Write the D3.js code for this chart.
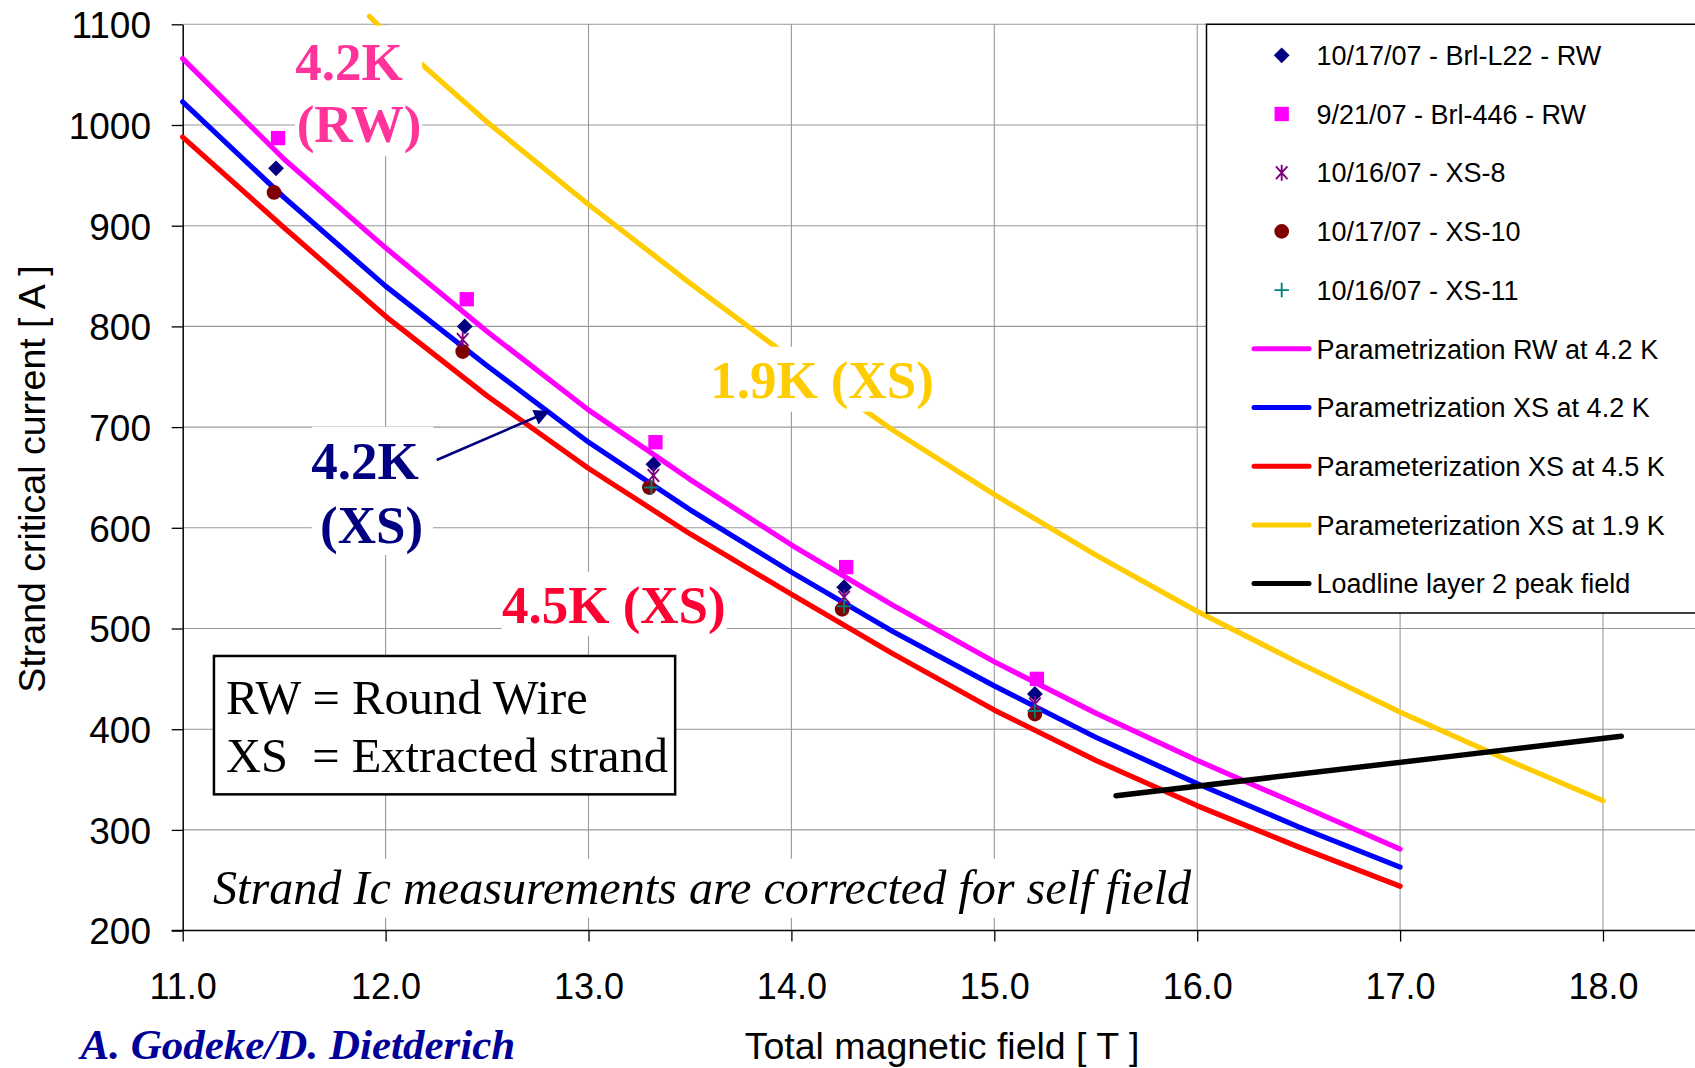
<!DOCTYPE html>
<html><head><meta charset="utf-8">
<script src="https://cdn.jsdelivr.net/npm/d3@7"></script>
<style>
html,body{margin:0;padding:0;background:#fff;}
svg{display:block;}
</style></head><body>
<svg id="chart" width="1695" height="1068"></svg>
<script>
// ---------- data ----------
const fieldGrid = [11, 11.5, 12, 12.5, 13, 13.5, 14, 14.5, 15, 15.5, 16, 16.5, 17];
const rw42 = [1066, 966, 878, 795, 717, 648, 583, 523, 467, 416, 369, 325, 281];
const xs42 = [1023, 928, 840, 761, 685, 618, 556, 497, 443, 392, 346, 303, 263];
const xs45 = [988, 898, 810, 731, 659, 594, 534, 475, 419, 369, 324, 283, 244];
const xs19Field = [11.92, 12, 12.5, 13, 13.5, 14, 14.5, 15, 15.5, 16, 16.5, 17, 17.5, 18];
const xs19 = [1108, 1092, 1003, 921, 843, 768, 697, 633, 573, 517, 466, 417, 372, 329];
const loadField = [15.6, 17.25, 18.09];
const loadCurrent = [334, 373, 393];

const l22Field = [11.46, 12.39, 13.32, 14.26, 15.2];
const l22 = [957, 800, 663, 541, 435];
const b446Field = [11.47, 12.40, 13.33, 14.27, 15.21];
const b446 = [987, 827, 685, 561, 450];
const xs8Field = [12.38, 13.32, 14.26, 15.2];
const xs8 = [787, 652, 531, 425];
const xs10Field = [11.45, 12.38, 13.30, 14.25, 15.2];
const xs10 = [933, 775, 640, 519, 415];
const xs11Field = [13.31, 14.26, 15.2];
const xs11 = [640, 522, 418];

const xTicks = [11, 12, 13, 14, 15, 16, 17, 18];
const yTicks = [200, 300, 400, 500, 600, 700, 800, 900, 1000, 1100];

const legendLabels = [
  "10/17/07 - Brl-L22 - RW",
  "9/21/07 - Brl-446 - RW",
  "10/16/07 - XS-8",
  "10/17/07 - XS-10",
  "10/16/07 - XS-11",
  "Parametrization RW at 4.2 K",
  "Parametrization XS at 4.2 K",
  "Parameterization XS at 4.5 K",
  "Parameterization XS at 1.9 K",
  "Loadline layer 2 peak field"
];

// ---------- setup ----------
const W = 1695, H = 1068;
const SANS = "'Liberation Sans', Arial, sans-serif";
const SERIF = "'Liberation Serif', 'Times New Roman', serif";
const svg = d3.select("#chart");
svg.append("rect").attr("width", W).attr("height", H).attr("fill", "#fff");

const x = d3.scaleLinear().domain([11, 18]).range([182.7, 1603]);
const y = d3.scaleLinear().domain([200, 1100]).range([930.6, 24.3]);
const plotRight = W;

// gridlines
const grid = svg.append("g").attr("stroke", "#999").attr("stroke-width", 1.1);
grid.selectAll("line.h").data(yTicks.filter(d => d > 200)).join("line")
  .attr("x1", x(11)).attr("x2", plotRight)
  .attr("y1", d => y(d)).attr("y2", d => y(d));
grid.selectAll("line.v").data(xTicks.filter(d => d > 11)).join("line")
  .attr("x1", d => x(d)).attr("x2", d => x(d))
  .attr("y1", y(1100)).attr("y2", y(200));

// axes
const xAxis = svg.append("g").attr("transform", `translate(0,${y(200)})`)
  .call(d3.axisBottom(x).tickValues(xTicks).tickSize(11).tickSizeOuter(0).tickFormat(d3.format(".1f")));
xAxis.select(".domain").remove();
xAxis.selectAll(".tick line").attr("stroke", "#000").attr("stroke-width", 1.3);
xAxis.selectAll(".tick text").attr("y", 68).attr("dy", 0)
  .attr("font-family", SANS).attr("font-size", 36).attr("fill", "#000");
svg.append("line").attr("x1", x(11) - 11).attr("x2", plotRight)
  .attr("y1", y(200)).attr("y2", y(200)).attr("stroke", "#000").attr("stroke-width", 1.5);

const yAxis = svg.append("g").attr("transform", `translate(${x(11)},0)`)
  .call(d3.axisLeft(y).tickValues(yTicks).tickSize(11).tickSizeOuter(0).tickFormat(d3.format("d")));
yAxis.select(".domain").attr("stroke", "#000").attr("stroke-width", 1.5);
yAxis.selectAll(".tick line").attr("stroke", "#000").attr("stroke-width", 1.3);
yAxis.selectAll(".tick text").attr("x", -(x(11) - 151)).attr("dy", "0.36em")
  .attr("font-family", SANS).attr("font-size", 37).attr("fill", "#000");

// axis titles
svg.append("text").attr("x", 942).attr("y", 1059).attr("text-anchor", "middle")
  .attr("font-family", SANS).attr("font-size", 37.5).text("Total magnetic field [ T ]");
svg.append("text").attr("transform", "translate(45,479) rotate(-90)").attr("text-anchor", "middle")
  .attr("font-family", SANS).attr("font-size", 37.5).text("Strand critical current [ A ]");

// ---------- curves ----------
const line = d3.line().x(d => x(d[0])).y(d => y(d[1]));
function drawCurve(fields, vals, color, width) {
  svg.append("path").datum(fields.map((f, i) => [f, vals[i]]))
    .attr("d", line).attr("fill", "none").attr("stroke", color)
    .attr("stroke-width", width).attr("stroke-linecap", "round").attr("stroke-linejoin", "round");
}
drawCurve(xs19Field, xs19, "#FFCC00", 5.2);
drawCurve(fieldGrid, xs45, "#FF0000", 5.2);
drawCurve(fieldGrid, xs42, "#0000FF", 5.2);
drawCurve(fieldGrid, rw42, "#FF00FF", 5.2);
drawCurve(loadField, loadCurrent, "#000000", 5.5);

// ---------- markers ----------
const asteriskType = { draw(ctx, size) { const r = Math.sqrt(size) / 2;
  ctx.moveTo(0, -r); ctx.lineTo(0, r);
  ctx.moveTo(-r * 0.72, -r * 0.8); ctx.lineTo(r * 0.72, r * 0.8);
  ctx.moveTo(-r * 0.72, r * 0.8); ctx.lineTo(r * 0.72, -r * 0.8); } };
const plusType = { draw(ctx, size) { const r = Math.sqrt(size) / 2;
  ctx.moveTo(0, -r); ctx.lineTo(0, r); ctx.moveTo(-r, 0); ctx.lineTo(r, 0); } };

const markerDefs = [
  { f: l22Field, v: l22, sym: d3.symbol(d3.symbolSquare, 125)(), rot: 45, fill: "#000080", stroke: "none" },
  { f: b446Field, v: b446, sym: d3.symbol(d3.symbolSquare, 205)(), rot: 0, fill: "#FF00FF", stroke: "none" },
  { f: xs8Field, v: xs8, sym: d3.symbol(asteriskType, 256)(), rot: 0, fill: "none", stroke: "#800080" },
  { f: xs10Field, v: xs10, sym: d3.symbol(d3.symbolCircle, 170)(), rot: 0, fill: "#800000", stroke: "none" },
  { f: xs11Field, v: xs11, sym: d3.symbol(plusType, 210)(), rot: 0, fill: "none", stroke: "#008080" }
];
[3, 0, 1, 2, 4].forEach(k => {
  const m = markerDefs[k];
  svg.append("g").selectAll("path").data(m.f.map((f, i) => [f, m.v[i]])).join("path")
    .attr("d", m.sym)
    .attr("transform", d => `translate(${x(d[0])},${y(d[1])}) rotate(${m.rot})`)
    .attr("fill", m.fill).attr("stroke", m.stroke).attr("stroke-width", 1.9);
});

// ---------- annotations (positioned in data units) ----------
function whiteBox(x0, x1, y0, y1) {
  svg.append("rect").attr("x", x(x0)).attr("y", y(y0))
    .attr("width", x(x1) - x(x0)).attr("height", y(y1) - y(y0)).attr("fill", "#fff");
}
function label(fx, fy, txt, color, size, opts = {}) {
  return svg.append("text").attr("x", x(fx)).attr("y", y(fy))
    .attr("text-anchor", opts.anchor || "middle")
    .attr("font-family", SERIF).attr("font-size", size)
    .attr("font-weight", opts.weight || "bold").attr("font-style", opts.style || "normal")
    .attr("fill", color).style("white-space", "pre").text(txt);
}

// 4.2K (RW)
whiteBox(11.553, 12.18, 1098.8, 969.2);
label(11.82, 1044.7, "4.2K", "#FF3399", 53);
label(11.869, 983.4, "(RW)", "#FF3399", 53);

// 1.9K (XS)
whiteBox(13.56, 14.74, 779.8, 715.3);
label(14.151, 728.6, "1.9K (XS)", "#FFCC00", 53);

// 4.2K (XS) with arrow
whiteBox(11.636, 12.234, 700.4, 573);
label(11.899, 648.5, "4.2K", "#000080", 53);
label(11.931, 584.6, "(XS)", "#000080", 53);
svg.append("defs").append("marker").attr("id", "arr").attr("viewBox", "0 0 10 10")
  .attr("refX", 9).attr("refY", 5).attr("markerWidth", 7).attr("markerHeight", 6)
  .attr("markerUnits", "strokeWidth").attr("orient", "auto")
  .append("path").attr("d", "M0,0 L10,5 L0,10 z").attr("fill", "#000080");
svg.append("line").attr("x1", x(12.252)).attr("y1", y(667.3))
  .attr("x2", x(12.802)).attr("y2", y(715.3))
  .attr("stroke", "#000080").attr("stroke-width", 2.6).attr("marker-end", "url(#arr)");

// 4.5K (XS)
whiteBox(12.572, 13.681, 556.4, 492.6);
label(13.125, 505.2, "4.5K (XS)", "#FF0033", 53);

// Definition box
svg.append("rect").attr("x", x(11.154)).attr("y", y(472.7))
  .attr("width", x(13.427) - x(11.154)).attr("height", y(335.3) - y(472.7))
  .attr("fill", "#fff").attr("stroke", "#000").attr("stroke-width", 2.5);
label(11.213, 415.1, "RW = Round Wire", "#000", 48.5, { anchor: "start", weight: "normal" });
label(11.213, 357.8, "XS  = Extracted strand", "#000", 48.5, { anchor: "start", weight: "normal" });

// Italic note
whiteBox(11.11, 15.99, 271.4, 212.8);
label(11.149, 226.9, "Strand Ic measurements are corrected for self field", "#000", 48.2,
  { anchor: "start", weight: "normal", style: "italic" });

// author credit
svg.append("text").attr("x", 80.5).attr("y", 1058.5)
  .attr("font-family", SERIF).attr("font-size", 43).attr("font-weight", "bold")
  .attr("font-style", "italic").attr("fill", "#000099").text("A. Godeke/D. Dietderich");

// ---------- legend ----------
const lg = svg.append("g");
lg.append("rect").attr("x", 1206.5).attr("y", y(1100)).attr("width", 520).attr("height", 613 - y(1100))
  .attr("fill", "#fff").attr("stroke", "#000").attr("stroke-width", 1.5);
const legendStyles = [
  { type: "m", k: 0 }, { type: "m", k: 1 }, { type: "m", k: 2 }, { type: "m", k: 3 }, { type: "m", k: 4 },
  { type: "l", c: "#FF00FF" }, { type: "l", c: "#0000FF" }, { type: "l", c: "#FF0000" },
  { type: "l", c: "#FFCC00" }, { type: "l", c: "#000000" }
];
legendLabels.forEach((t, i) => {
  const cy = 55.3 + i * 58.7;
  const st = legendStyles[i];
  if (st.type === "m") {
    const m = markerDefs[st.k];
    lg.append("path").attr("d", m.sym)
      .attr("transform", `translate(1281.7,${cy}) rotate(${m.rot})`)
      .attr("fill", m.fill).attr("stroke", m.stroke).attr("stroke-width", 1.9);
  } else {
    lg.append("line").attr("x1", 1254).attr("x2", 1309).attr("y1", cy).attr("y2", cy)
      .attr("stroke", st.c).attr("stroke-width", 5).attr("stroke-linecap", "round");
  }
  lg.append("text").attr("x", 1316.5).attr("y", cy).attr("dy", "0.36em")
    .attr("font-family", SANS).attr("font-size", 27).attr("fill", "#000").text(t);
});
</script>
</body></html>
